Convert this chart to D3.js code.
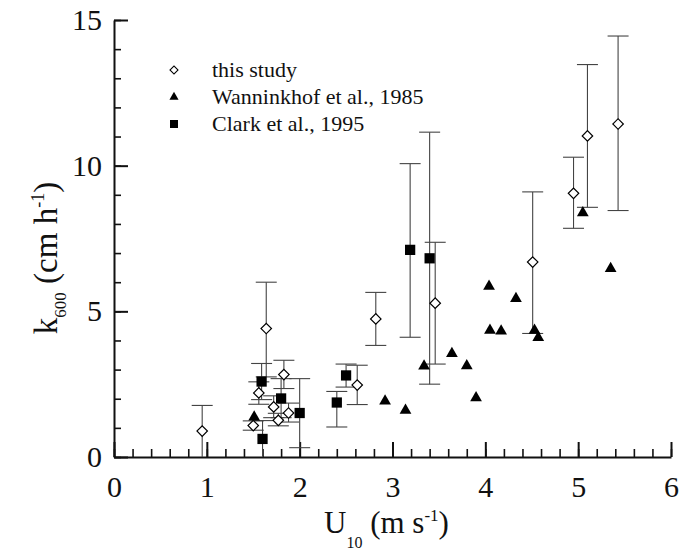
<!DOCTYPE html>
<html>
<head>
<meta charset="utf-8">
<script src="https://cdn.jsdelivr.net/npm/d3@7"></script>
<style>
  body { margin: 0; background: #fff; }
  svg text { font-family: "Liberation Serif", "Times New Roman", Times, "DejaVu Serif", serif !important; }
</style>
</head>
<body>
<svg id="chart"></svg>
<script>
const width = 683;
const height = 550;

// this study (open diamonds), with error bar ends
const studyU  = [0.95, 1.50, 1.56, 1.64, 1.72, 1.77, 1.83, 1.88, 2.62, 2.82, 3.46, 4.51, 4.95, 5.10, 5.43];
const studyK  = [0.89, 1.08, 2.20, 4.41, 1.72, 1.26, 2.83, 1.51, 2.47, 4.74, 5.28, 6.69, 9.05, 11.02, 11.43];
const studyLo = [0.00, 0.92, 1.81, 2.75, 1.35, 1.07, 2.35, 1.20, 1.80, 3.83, 3.19, 4.24, 7.85, 8.57, 8.46];
const studyHi = [1.77, 1.24, 2.58, 6.00, 2.10, 1.50, 3.32, 1.85, 3.15, 5.65, 7.37, 9.10, 10.29, 13.47, 14.45];

// Wanninkhof et al., 1985 (filled triangles)
const wannU = [1.51, 2.92, 3.14, 3.34, 3.64, 3.80, 3.90, 4.04, 4.05, 4.17, 4.33, 4.53, 4.57, 5.05, 5.35];
const wannK = [1.37, 1.92, 1.60, 3.12, 3.55, 3.13, 2.03, 5.86, 4.35, 4.32, 5.44, 4.35, 4.10, 8.38, 6.47];

// Clark et al., 1995 (filled squares)
const clarkU  = [1.60, 1.59, 1.80, 2.00, 2.40, 2.50, 3.19, 3.40];
const clarkK  = [0.62, 2.59, 2.01, 1.51, 1.87, 2.80, 7.11, 6.82];
const clarkLo = [0.00, 1.97, 1.35, 0.32, 1.03, 2.40, 4.11, 2.50];
const clarkHi = [1.25, 3.21, 2.69, 2.69, 2.25, 3.19, 10.07, 11.15];

const xTicks = [0, 1, 2, 3, 4, 5, 6];
const yTicks = [0, 5, 10, 15];
const legendLabels = ['this study', 'Wanninkhof et al., 1985', 'Clark et al., 1995'];

const margin = {top: 20, right: 12, bottom: 93, left: 114};

const svg = d3.select('#chart')
    .attr('width', width)
    .attr('height', height);

const x = d3.scaleLinear().domain([0, 6]).range([margin.left, width - margin.right]);
const y = d3.scaleLinear().domain([0, 15]).range([height - margin.bottom, margin.top]);

const study = studyU.map((u, i) => ({u: u, k: studyK[i], lo: studyLo[i], hi: studyHi[i]}));
const wann = wannU.map((u, i) => ({u: u, k: wannK[i]}));
const clark = clarkU.map((u, i) => ({u: u, k: clarkK[i], lo: clarkLo[i], hi: clarkHi[i]}));

// minor ticks first, then major axes on top
svg.append('g')
    .attr('transform', `translate(0,${y(0)})`)
    .call(d3.axisBottom(x).tickValues(d3.range(0, 6.01, 0.2)).tickSize(-8).tickSizeOuter(0).tickFormat(''))
    .call(g => g.select('.domain').remove())
    .call(g => g.selectAll('line').attr('stroke', '#111').attr('stroke-width', 1.6));

svg.append('g')
    .attr('transform', `translate(${x(0)},0)`)
    .call(d3.axisLeft(y).tickValues(d3.range(0, 15.01, 1)).tickSize(-7).tickSizeOuter(0).tickFormat(''))
    .call(g => g.select('.domain').remove())
    .call(g => g.selectAll('line').attr('stroke', '#111').attr('stroke-width', 1.6));

const xAxis = svg.append('g')
    .attr('transform', `translate(0,${y(0)})`)
    .call(d3.axisBottom(x).tickValues(xTicks).tickSize(-15).tickSizeOuter(0).tickPadding(19).tickFormat(d3.format('d')));

const yAxis = svg.append('g')
    .attr('transform', `translate(${x(0)},0)`)
    .call(d3.axisLeft(y).tickValues(yTicks).tickSize(-14).tickSizeOuter(0).tickPadding(12).tickFormat(d3.format('d')));

[xAxis, yAxis].forEach(g => {
    g.attr('font-family', null);
    g.select('.domain').attr('stroke', '#111').attr('stroke-width', 2);
    g.selectAll('line').attr('stroke', '#111').attr('stroke-width', 2);
    g.selectAll('text')
        .attr('font-size', 30)
        .attr('fill', '#111');
});

// error bars
const capW = 10.5;
const bars = svg.append('g').attr('stroke', '#444').attr('stroke-width', 1.1).attr('fill', 'none');
study.concat(clark).forEach(d => {
    bars.append('line').attr('x1', x(d.u)).attr('x2', x(d.u)).attr('y1', y(d.lo)).attr('y2', y(d.hi));
    [d.lo, d.hi].forEach(v => {
        if (v > 0 && v !== d.k) {
            bars.append('line')
                .attr('x1', x(d.u) - capW).attr('x2', x(d.u) + capW)
                .attr('y1', y(v)).attr('y2', y(v));
        }
    });
});

const square = d3.symbol(d3.symbolSquare);
const triangle = d3.symbol(d3.symbolTriangle);

svg.append('g').selectAll('path')
    .data(clark)
    .join('path')
    .attr('d', square.size(105))
    .attr('transform', d => `translate(${x(d.u)},${y(d.k)})`)
    .attr('fill', '#000');

svg.append('g').selectAll('path')
    .data(wann)
    .join('path')
    .attr('d', triangle.size(60))
    .attr('transform', d => `translate(${x(d.u)},${y(d.k)})`)
    .attr('fill', '#000');

svg.append('g').selectAll('path')
    .data(study)
    .join('path')
    .attr('d', square.size(55))
    .attr('transform', d => `translate(${x(d.u)},${y(d.k)}) rotate(45)`)
    .attr('fill', '#fff')
    .attr('stroke', '#000')
    .attr('stroke-width', 1.2);

// legend
const legend = svg.append('g').attr('transform', 'translate(174,70)');
const legendSymbols = [
    {d: square.size(32)(), rot: 45, fill: '#fff', stroke: '#000'},
    {d: triangle.size(36)(), rot: 0, fill: '#000', stroke: 'none'},
    {d: square.size(64)(), rot: 0, fill: '#000', stroke: 'none'}
];
legendLabels.forEach((label, i) => {
    const s = legendSymbols[i];
    legend.append('path')
        .attr('d', s.d)
        .attr('transform', `translate(0,${i * 27}) rotate(${s.rot})`)
        .attr('fill', s.fill)
        .attr('stroke', s.stroke)
        .attr('stroke-width', 1.1);
    legend.append('text')
        .attr('x', 38)
        .attr('y', i * 27 + 7)
        .attr('font-size', 22)
        .attr('fill', '#111')
        .text(label);
});

// axis titles
const xt = svg.append('text')
    .attr('x', 324)
    .attr('y', 533)
    .attr('font-size', 31)
    .attr('fill', '#111');
xt.append('tspan').text('U');
xt.append('tspan').attr('font-size', 16).attr('dy', 15).text('10');
xt.append('tspan').attr('dy', -15).text('\u00a0(m s');
xt.append('tspan').attr('font-size', 17).attr('dy', -12).text('-1');
xt.append('tspan').attr('dy', 12).text(')');

const yt = svg.append('text')
    .attr('transform', 'translate(57,258) rotate(-90)')
    .attr('text-anchor', 'middle')
    .attr('font-size', 33)
    .attr('fill', '#111');
yt.append('tspan').text('k');
yt.append('tspan').attr('font-size', 17).attr('dy', 9).text('600');
yt.append('tspan').attr('dy', -9).text('\u00a0(cm h');
yt.append('tspan').attr('font-size', 18).attr('dy', -13).text('-1');
yt.append('tspan').attr('dy', 13).text(')');
</script>
</body>
</html>
